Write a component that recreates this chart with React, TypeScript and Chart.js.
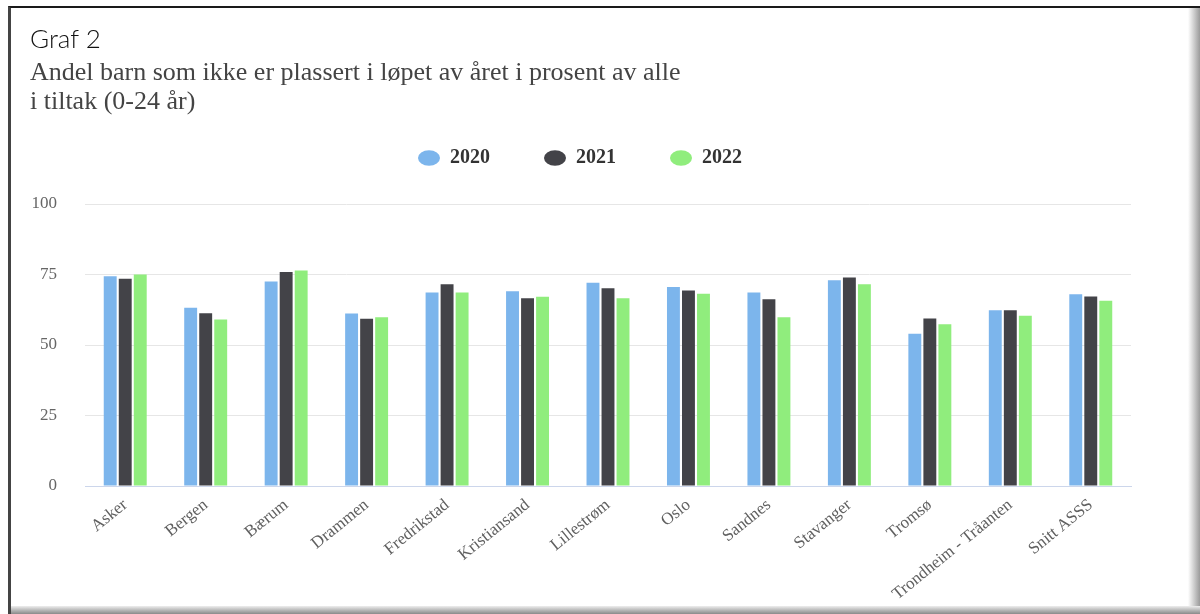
import React, { useEffect, useRef } from "react";
import { Chart, registerables } from "chart.js";

Chart.register(...registerables);

const categories = [
  "Asker",
  "Bergen",
  "Bærum",
  "Drammen",
  "Fredrikstad",
  "Kristiansand",
  "Lillestrøm",
  "Oslo",
  "Sandnes",
  "Stavanger",
  "Tromsø",
  "Trondheim - Tråanten",
  "Snitt ASSS",
];

const seriesNames = ["2020", "2021", "2022"];
const values2020 = [74.4, 63.2, 72.5, 61.2, 68.6, 69.1, 72.1, 70.6, 68.6, 73.0, 54.0, 62.3, 68.0];
const values2021 = [73.5, 61.3, 75.9, 59.3, 71.5, 66.6, 70.1, 69.3, 66.2, 73.9, 59.4, 62.3, 67.2];
const values2022 = [75.0, 59.0, 76.4, 59.8, 68.6, 67.1, 66.6, 68.2, 59.8, 71.5, 57.4, 60.4, 65.7];
const seriesColors = ["#7cb5ec", "#434348", "#90ed7d"];
const yMin = 0;
const yMax = 100;
const yStep = 25;

const titleText = "Graf 2";
const subtitleLines = [
  "Andel barn som ikke er plassert i løpet av året i prosent av alle",
  "i tiltak (0-24 år)",
];

const SERIF = '"Liberation Serif", "Times New Roman", serif';

const legendGap = {
  id: "legendGap",
  afterInit(chart: any) {
    const lg = chart.legend;
    if (!lg || lg.__patched) return;
    const orig = lg.fit.bind(lg);
    lg.fit = function () {
      orig();
      this.height += 26;
    };
    lg.__patched = true;
  },
};

export default function App() {
  const ref = useRef<HTMLCanvasElement>(null);

  useEffect(() => {
    if (!ref.current) return;
    const allValues = [values2020, values2021, values2022];
    const chart = new Chart(ref.current, {
      type: "bar",
      data: {
        labels: categories,
        datasets: seriesNames.map((name, i) => ({
          label: name,
          data: allValues[i],
          backgroundColor: seriesColors[i],
          borderWidth: 0,
          barPercentage: 0.86,
          categoryPercentage: 0.56,
        })),
      },
      options: {
        responsive: false,
        animation: false,
        devicePixelRatio: 1,
        layout: { padding: { top: 94, left: 29, right: 69, bottom: 0 } },
        plugins: {
          tooltip: { enabled: false },
          title: { display: false },
          legend: {
            display: true,
            position: "top",
            align: "center",
            labels: {
              usePointStyle: true,
              pointStyle: "circle",
              pointStyleWidth: 22,
              boxHeight: 11,
              padding: 54,
              color: "#333333",
              font: { family: SERIF, size: 20, weight: "bold" },
            },
          },
        },
        scales: {
          x: {
            type: "category",
            grid: { display: false, drawTicks: false },
            border: { display: true, color: "#ccd6eb", width: 1 },
            ticks: {
              autoSkip: false,
              minRotation: 39,
              maxRotation: 39,
              padding: 9,
              color: "#606060",
              font: { family: SERIF, size: 17 },
            },
            afterFit: (s: any) => {
              s.height = 128;
            },
          },
          y: {
            min: yMin,
            max: yMax,
            ticks: {
              stepSize: yStep,
              padding: 28,
              color: "#666666",
              font: { family: SERIF, size: 17 },
            },
            grid: {
              drawTicks: false,
              lineWidth: 1,
              color: (ctx: any) => (ctx.tick && ctx.tick.value === 0 ? "#ccd6eb" : "#e6e6e6"),
            },
            border: { display: false },
            afterFit: (s: any) => {
              s.width = 56;
            },
          },
        },
      },
      plugins: [legendGap],
    } as any);
    return () => chart.destroy();
  }, []);

  return (
    <div
      style={{
        position: "absolute",
        left: 0,
        top: 0,
        width: 1200,
        height: 614,
        overflow: "hidden",
        background: "#ffffff",
      }}
    >
      <div
        style={{
          position: "absolute",
          left: 8,
          top: 6,
          width: 1192,
          height: 608,
          borderLeft: "3px solid #444",
          borderTop: "2px solid #1a1a1a",
          boxSizing: "border-box",
        }}
      />
      <div
        style={{
          position: "absolute",
          left: 1188,
          top: 8,
          width: 12,
          height: 606,
          background: "linear-gradient(to right, #ffffff, #c8c8c8 55%, #9a9a9a)",
        }}
      />
      <div
        style={{
          position: "absolute",
          left: 11,
          top: 606,
          width: 1189,
          height: 8,
          background: "linear-gradient(to bottom, #eeeeee, #b0b0b0 60%, #8a8a8a)",
        }}
      />
      <canvas
        ref={ref}
        width={1200}
        height={614}
        style={{ position: "absolute", left: 0, top: 0, width: 1200, height: 614 }}
      />
      <div
        style={{
          position: "absolute",
          left: 30,
          top: 25,
          fontFamily: "Lato, 'Open Sans', sans-serif",
          fontWeight: 300,
          fontSize: 26,
          lineHeight: "26px",
          color: "#111",
          whiteSpace: "nowrap",
        }}
      >
        {titleText}
      </div>
      <div
        style={{
          position: "absolute",
          left: 30,
          top: 57,
          fontFamily: SERIF,
          fontSize: 26,
          lineHeight: "29px",
          color: "#444",
          whiteSpace: "nowrap",
        }}
      >
        {subtitleLines.map((l, i) => (
          <div key={i}>{l}</div>
        ))}
      </div>
    </div>
  );
}
